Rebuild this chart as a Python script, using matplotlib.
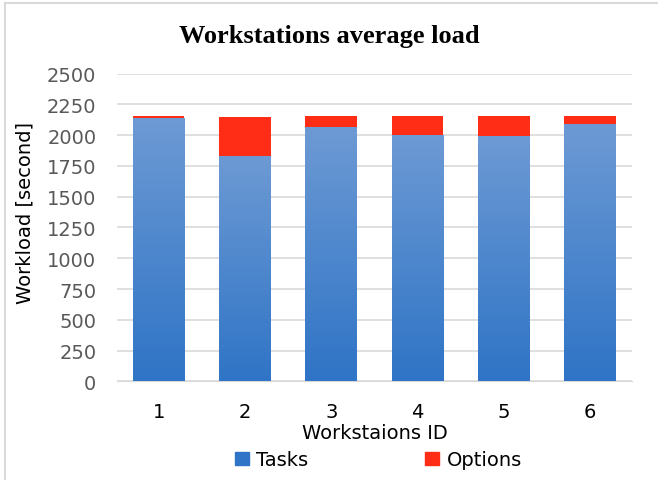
import numpy as np
import matplotlib.pyplot as plt
from matplotlib.patches import Patch
from matplotlib.colors import LinearSegmentedColormap

# Values
stations = ["1", "2", "3", "4", "5", "6"]
tasks = [2135, 1832, 2062, 2000, 1991, 2088]
options = [24, 319, 97, 159, 168, 71]

blue_top = "#6d9ad4"
blue_bottom = "#2f74c6"
red = "#ff2d16"

fig = plt.figure(figsize=(6.58, 4.81), dpi=100)
ax = fig.add_axes([0.178, 0.205, 0.782, 0.64])

x = np.arange(len(stations))
width = 0.6

# gradient for the blue part of each bar
grad = np.linspace(0, 1, 256).reshape(-1, 1)
cmap = LinearSegmentedColormap.from_list("blues", [blue_bottom, blue_top])

bars = ax.bar(x, tasks, width, color="none", edgecolor="none", zorder=3)
for b in bars:
    im = ax.imshow(grad, cmap=cmap, aspect="auto", origin="lower",
                   extent=[b.get_x(), b.get_x() + b.get_width(), 0, b.get_height()],
                   zorder=3)
    im.set_clip_path(b)
ax.bar(x, options, width, bottom=tasks, color=red, zorder=3)

ax.set_xlim(-0.48, 5.48)
ax.set_ylim(0, 2500)
ax.set_yticks(range(0, 2501, 250))
ax.set_xticks(x)
ax.set_xticklabels(stations)
ax.yaxis.grid(True, color="#d9d9d9", linewidth=1.2, zorder=0)
ax.set_axisbelow(True)
for s in ["top", "right", "left"]:
    ax.spines[s].set_visible(False)
ax.spines["bottom"].set_color("#d9d9d9")
ax.tick_params(axis="y", length=0, labelsize=14, labelcolor="#595959", pad=15)
ax.tick_params(axis="x", length=0, labelsize=14, labelcolor="#000000", pad=15)

fig.text(0.5, 1 - 37 / 481, "Workstations average load", fontsize=19,
         fontweight="bold", family="Liberation Serif", ha="center", va="center")
fig.text(25 / 658, 1 - 213 / 481, "Workload [second]", fontsize=14,
         rotation=90, ha="center", va="center")
ax.set_xlabel("Workstaions ID", fontsize=14, labelpad=1)

handles = [Patch(color=blue_bottom, label="Tasks"), Patch(color=red, label="Options")]
fig.legend(handles=handles, loc="lower center", bbox_to_anchor=(0.575, -0.014),
           ncol=2, frameon=False, fontsize=14, columnspacing=6.0,
           handlelength=0.7, handleheight=0.7, handletextpad=0.4)

# light frame on the left and top edges
fig.add_artist(plt.Line2D([0.008, 0.008], [0, 0.992], transform=fig.transFigure,
                          color="#d9d9d9", linewidth=1.5))
fig.add_artist(plt.Line2D([0.008, 1.0], [0.992, 0.992], transform=fig.transFigure,
                          color="#d9d9d9", linewidth=1.5))

plt.savefig("out.png", dpi=100)
